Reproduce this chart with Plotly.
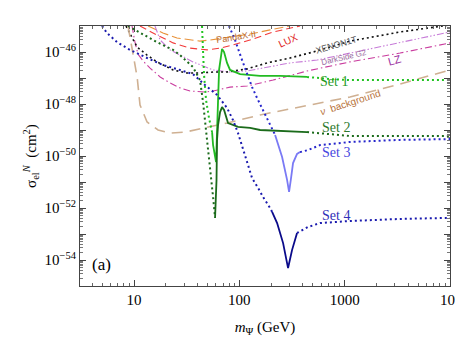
import numpy as np
import plotly.graph_objects as go

# ---------------- data (mass in GeV, log10 of sigma in cm^2) ----------------
pandax_m = [13.6, 18.8, 25.6, 34.0, 42.3, 52.7, 81.6, 126.5, 195.8, 303]
pandax_e = [-45.0, -45.27, -45.46, -45.54, -45.58, -45.54, -45.42, -45.31, -45.15, -45.0]

lux_m = [11.4, 16.5, 23.5, 34.0, 49.4, 65.6, 87.1, 135, 209, 377]
lux_e = [-45.0, -45.35, -45.65, -45.85, -45.92, -45.85, -45.73, -45.50, -45.23, -45.0]

xenon_m = [8.39, 10.7, 13.3, 16.5, 23.5, 31.8, 42.3, 56.3, 76.4, 118.4, 183.3, 303, 547, 1124, 3357, 10000]
xenon_e = [-45.0, -45.81, -46.12, -46.38, -46.69, -46.81, -46.81, -46.77, -46.77, -46.65, -46.42, -46.23,
           -45.96, -45.58, -45.23, -44.96]

darkside_m = [15.8, 17.7, 22.0, 29.2, 36.3, 56.3, 81.6, 118.4, 303, 547, 1124, 3357, 10000]
darkside_e = [-45.0, -45.54, -45.92, -46.19, -46.38, -46.69, -46.77, -46.73, -46.42, -46.31, -46.04, -45.65, -45.23]

lz_m = [9.57, 10.2, 10.9, 12.2, 14.2, 17.7, 22.0, 27.3, 34.0, 47.2, 56.3, 81.6, 118.4, 209.2, 439.5, 1124, 3357, 10000]
lz_e = [-45.0, -45.62, -46.08, -46.35, -46.62, -46.96, -47.19, -47.38, -47.5, -47.54, -47.5, -47.35, -47.31,
        -47.08, -46.73, -46.38, -46.04, -45.65]

nu_m = [8.77, 9.79, 10.7, 11.4, 13.3, 16.9, 22.0, 30.5, 42.3, 76.4, 157.3, 376.7, 1124, 3357, 10000]
nu_e = [-45.0, -46.04, -46.96, -48.04, -48.69, -49.0, -49.12, -49.08, -48.96, -48.73, -48.42, -48.12,
        -47.73, -47.23, -46.69]

# Set 1
set1_dot_a_m = [44.2, 45.2, 46.2, 48.3, 51.5, 55.1]
set1_dot_a_e = [-45.0, -45.92, -46.88, -47.85, -48.54, -49.08]
set1_sol_m = [55.1, 56.3, 60.1, 61.4, 62.8, 64.2, 67.0, 68.5, 71.6, 76.4, 81.6, 101.6, 157.3, 243.6, 439.5]
set1_sol_e = [-49.08, -49.58, -50.23, -49.38, -47.85, -46.69, -46.0, -45.88, -46.0, -46.42, -46.69, -46.85,
              -46.92, -46.92, -46.96]
set1_dot_b_m = [439.5, 726.5, 1124, 3357, 10000]
set1_dot_b_e = [-46.96, -47.04, -47.08, -47.08, -47.08]

# Set 2
set2_dot_a_m = [8.77, 11.4, 16.5, 23.5, 27.3, 36.3, 42.3, 45.2, 48.3, 52.7, 56.3, 58.8]
set2_dot_a_e = [-45.0, -45.27, -45.62, -45.92, -46.12, -46.58, -47.08, -47.92, -49.0, -50.27, -51.58, -52.38]
set2_sol_m = [58.8, 60.7, 61.4, 62.8, 65.6, 68.5, 71.6, 78.1, 97.2, 126.5, 157.3, 243.6, 439.5]
set2_sol_e = [-52.38, -50.92, -49.38, -48.81, -48.31, -48.12, -48.23, -48.73, -48.88, -48.92, -49.0,
              -49.04, -49.08]
set2_dot_b_m = [439.5, 726.5, 1124, 3357, 10000]
set2_dot_b_e = [-49.08, -49.15, -49.23, -49.23, -49.23]

# Set 3
set3_dot_a_m = [79.8, 91.0, 106.1, 121.0, 132.1, 147.3, 164.4, 187.4, 218.5]
set3_dot_a_e = [-45.0, -45.54, -46.31, -46.96, -47.35, -47.77, -48.15, -48.62, -49.19]
set3_sol_m = [218.5, 254.6, 283.9, 296.5, 309.6, 323.4, 353.0, 376.7]
set3_sol_e = [-49.19, -50.04, -50.92, -51.38, -50.85, -50.27, -49.92, -49.85]
set3_dot_b_m = [376.7, 449, 583.9, 1124, 3357, 10000]
set3_dot_b_e = [-49.85, -49.77, -49.58, -49.46, -49.38, -49.35]

# Set 4
set4_dot_a_m = [4.97, 5.54, 6.90, 9.16, 13.3, 18.8, 27.3, 36.3, 47.2, 61.4, 76.4, 87.1, 97.2, 118.4,
                132.1, 150.6, 168.1, 195.8, 204.6]
set4_dot_a_e = [-45.0, -45.27, -45.62, -45.92, -46.23, -46.50, -46.69, -46.85, -47.27, -47.65, -48.15,
                -48.62, -49.12, -50.27, -50.85, -51.23, -51.58, -52.0, -52.15]
set4_sol_m = [204.6, 228.3, 260.2, 290.1, 316.4, 353.0]
set4_sol_e = [-52.15, -52.58, -53.35, -54.31, -53.62, -52.96]
set4_dot_b_m = [353.0, 449, 583.9, 1124, 3357, 10000]
set4_dot_b_e = [-52.96, -52.73, -52.58, -52.5, -52.42, -52.38]

x_tick_vals = [10, 100, 1000, 10000]
x_tick_text = ["10", "100", "1000", "10<sup>4</sup>"]
y_tick_exps = [-54, -53, -52, -51, -50, -49, -48, -47, -46]

# ---------------- figure ----------------
fig = go.Figure()


def add(m, e, color, dash, width):
    fig.add_trace(go.Scatter(x=m, y=10.0 ** np.array(e), mode="lines",
                             line=dict(color=color, dash=dash, width=width),
                             hoverinfo="skip", showlegend=False))


DOT = "2px,3px"
add(pandax_m, pandax_e, "#E8923A", "9px,4px", 1.1)
add(lux_m, lux_e, "#F23A3A", "7px,4px", 1.1)
add(darkside_m, darkside_e, "#C77CD8", "7px,2px,1.5px,2px,1.5px,2px", 1.1)
add(lz_m, lz_e, "#C93C9E", "7px,3px,1.5px,3px", 1.1)
add(xenon_m, xenon_e, "#111111", DOT, 1.6)
add(nu_m, nu_e, "#CFB092", "11px,7px", 1.6)

add(set1_dot_a_m, set1_dot_a_e, "#22C422", DOT, 2)
add(set1_sol_m, set1_sol_e, "#22BB22", "solid", 1.8)
add(set1_dot_b_m, set1_dot_b_e, "#22C422", DOT, 2)

add(set2_dot_a_m, set2_dot_a_e, "#1B6B1B", DOT, 2)
add(set2_sol_m, set2_sol_e, "#1B6B1B", "solid", 1.8)
add(set2_dot_b_m, set2_dot_b_e, "#1B6B1B", DOT, 2)

add(set3_dot_a_m, set3_dot_a_e, "#2626CC", DOT, 2)
add(set3_sol_m, set3_sol_e, "#7A7AF5", "solid", 1.8)
add(set3_dot_b_m, set3_dot_b_e, "#2626CC", DOT, 2)

add(set4_dot_a_m, set4_dot_a_e, "#1A1AAE", DOT, 2)
add(set4_sol_m, set4_sol_e, "#0A0A8A", "solid", 1.8)
add(set4_dot_b_m, set4_dot_b_e, "#1A1AAE", DOT, 2)

# minor ticks
x_minor = [k * 10 ** d for d in range(0, 4) for k in range(2, 10) if 3.0 <= k * 10 ** d <= 10000]
y_minor = [k * 10.0 ** d for d in range(-55, -45) for k in range(2, 10)]

fig.update_xaxes(type="log", range=[0.487, 4.0], tickvals=x_tick_vals, ticktext=x_tick_text,
                 ticks="inside", ticklen=6, tickcolor="#444", mirror="allticks", showline=True,
                 linecolor="#444", linewidth=1, showgrid=False, zeroline=False, automargin=False,
                 minor=dict(tickvals=x_minor, ticks="inside", ticklen=3, tickcolor="#666"),
                 tickfont=dict(family="Liberation Serif", size=15, color="black"),
                 title=dict(text="<i>m</i><sub>Ψ</sub> (GeV)", standoff=14,
                            font=dict(family="Liberation Serif", size=15, color="black")))

y_tick_text = [("10<sup>−%d</sup>" % (-e)) if e % 2 == 0 else "" for e in y_tick_exps]
fig.update_yaxes(type="log", range=[-55, -45], tickvals=[10.0 ** e for e in y_tick_exps],
                 ticktext=y_tick_text, ticks="inside", ticklen=6, tickcolor="#444",
                 mirror="allticks", showline=True, linecolor="#444", linewidth=1,
                 showgrid=False, zeroline=False, automargin=False,
                 minor=dict(tickvals=y_minor, ticks="inside", ticklen=3, tickcolor="#777"),
                 tickfont=dict(family="Liberation Serif", size=15, color="black"),
                 title=dict(text="σ<sub>el</sub><sup><i>N</i></sup>  (cm<sup>2</sup>)", standoff=4,
                            font=dict(family="Liberation Serif", size=15, color="black")))


def label(text, xp, yp, color, size, angle=0, family="Liberation Sans"):
    fig.add_annotation(text=text, x=xp, y=yp, xref="paper", yref="paper", showarrow=False,
                       textangle=angle, font=dict(family=family, size=size, color=color),
                       xanchor="center", yanchor="middle")


label("PandaX-II", 0.422, 0.958, "#B8692C", 9, -9)
label("LUX", 0.562, 0.946, "#E02828", 10, -25)
label("XENON1T", 0.692, 0.927, "#555555", 9, -16)
label("DarkSide G2", 0.714, 0.877, "#9A6A9E", 8, -13)
label("LZ", 0.851, 0.869, "#9B2FA0", 11, -15)
label("<i>ν</i>  background", 0.730, 0.704, "#B8733A", 10, -18)
label("Set 1", 0.686, 0.785, "#1F9A1F", 14, 0, "Liberation Serif")
label("Set 2", 0.692, 0.608, "#2E7A2E", 14, 0, "Liberation Serif")
label("Set 3", 0.692, 0.515, "#4646E0", 14, 0, "Liberation Serif")
label("Set 4", 0.692, 0.273, "#3030B8", 14, 0, "Liberation Serif")
label("(a)", 0.059, 0.081, "black", 17, 0, "Liberation Serif")

# the page adds an 8px body margin, so the figure is 8px smaller and shifted margins
fig.update_layout(width=455, height=336, margin=dict(l=72, r=13, t=18, b=58),
                  plot_bgcolor="white", paper_bgcolor="white", showlegend=False)

fig.write_html("out.html")
